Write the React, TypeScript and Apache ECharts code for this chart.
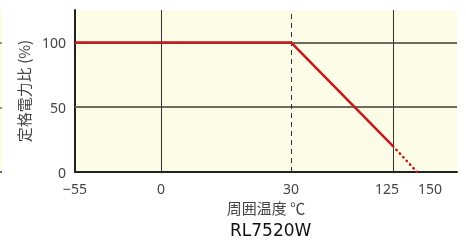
import React, { useEffect, useRef } from "react";
import * as echarts from "echarts";

// Temperature breakpoints of the (non-linear) x scale and their axis positions
const tempBreaks = [-55, 0, 30, 125, 150];
const axisBreaks = [0, 86, 216, 318, 342];
const axisMax = 382;

// Tick labels
const xTickLabels = ["−55", "0", "30", "125", "150"];
const yTicks = [0, 50, 100];

// Vertical grid lines (temperatures) and style
const vGridTemps = [0, 30, 125];
const vGridDashed = [false, true, false];
const hGridValues = [50, 100];

// Derating curve
const solidTemps = [-55, 30, 125];
const solidRatio = [100, 100, 20];
const dottedTemps = [125, 150];
const dottedRatio = [20, 0];

function toAxis(t: number): number {
  for (let i = 0; i < tempBreaks.length - 1; i++) {
    const a = tempBreaks[i], b = tempBreaks[i + 1];
    if (t >= a && t <= b) {
      return axisBreaks[i] + ((t - a) / (b - a)) * (axisBreaks[i + 1] - axisBreaks[i]);
    }
  }
  return t < tempBreaks[0] ? axisBreaks[0] : axisBreaks[axisBreaks.length - 1];
}

const FONT = "'Noto Sans', 'Noto Sans CJK JP', sans-serif";
const CJK = "'Noto Sans CJK JP', 'Noto Sans', sans-serif";
const RED = "#c8161d";
const BG = "#fdfce6";

export default function App() {
  const ref = useRef<HTMLDivElement>(null);
  useEffect(() => {
    if (!ref.current) return;
    const chart = echarts.init(ref.current, null, { renderer: "svg" });
    const tickPos = tempBreaks.map(toAxis);
    const labelFor = (v: number) => {
      let best = 0;
      for (let i = 1; i < tickPos.length; i++) {
        if (Math.abs(tickPos[i] - v) < Math.abs(tickPos[best] - v)) best = i;
      }
      return best;
    };
    const labelStyle = { fontSize: 14, lineHeight: 13, color: "#444", fontFamily: FONT };
    const baseX = {
      type: "value",
      min: 0,
      max: axisMax,
      position: "bottom",
      axisTick: { show: false },
      splitLine: { show: false },
    };
    chart.setOption({
      animation: false,
      title: {
        text: "RL7520W",
        left: 230,
        top: 221,
        padding: 0,
        textStyle: { fontSize: 17, fontWeight: "normal", color: "#111", fontFamily: "'DejaVu Sans', sans-serif" },
      },
      grid: {
        left: 75,
        top: 10,
        right: 9,
        bottom: 68,
        show: true,
        backgroundColor: BG,
        borderWidth: 0,
      },
      xAxis: [
        {
          ...baseX,
          name: "周囲温度 ℃",
          nameLocation: "middle",
          nameGap: 28,
          nameMoveOverlap: false,
          nameTextStyle: { fontSize: 15, lineHeight: 15, color: "#444", fontFamily: CJK },
          axisLine: { show: true, onZero: false, lineStyle: { color: "#222", width: 2 } },
          axisLabel: {
            ...labelStyle,
            customValues: tickPos.slice(0, 4),
            hideOverlap: false,
            margin: 10,
            formatter: (v: number) => {
              const i = labelFor(v);
              return i === 3 ? "{l|" + xTickLabels[i] + "}" : xTickLabels[i];
            },
            rich: { l: { ...labelStyle, padding: [0, 12, 0, 0] } },
          },
        },
        {
          ...baseX,
          axisLine: { show: false },
          axisLabel: {
            ...labelStyle,
            customValues: tickPos.slice(4),
            hideOverlap: false,
            margin: 10,
            formatter: (v: number) => "{r|" + xTickLabels[labelFor(v)] + "}",
            rich: { r: { ...labelStyle, padding: [0, 0, 0, 26] } },
          },
        },
      ],
      yAxis: {
        type: "value",
        min: 0,
        max: 125,
        name: "定格電力比 (%)",
        nameLocation: "middle",
        nameRotate: 90,
        nameGap: 44,
        nameMoveOverlap: false,
        nameTextStyle: { fontSize: 15, color: "#444", fontFamily: CJK },
        axisLine: { show: true, lineStyle: { color: "#222", width: 2 } },
        axisTick: { show: false },
        splitLine: { show: false },
        axisLabel: {
          ...labelStyle,
          lineHeight: 12,
          customValues: yTicks,
          margin: 9,
        },
      },
      graphic: [
        { type: "rect", shape: { x: 0, y: 10, width: 2.5, height: 162 }, style: { fill: BG } },
        { type: "line", shape: { x1: 0, y1: 43, x2: 2, y2: 43 }, style: { stroke: "#333", lineWidth: 1 } },
        { type: "line", shape: { x1: 0, y1: 108, x2: 2, y2: 108 }, style: { stroke: "#333", lineWidth: 1 } },
        { type: "line", shape: { x1: 0, y1: 172, x2: 2, y2: 172 }, style: { stroke: "#333", lineWidth: 1.5 } },
      ],
      series: [
        {
          type: "line",
          data: [],
          z: 1,
          silent: true,
          markLine: {
            silent: true,
            z: 1,
            symbol: ["none", "none"],
            label: { show: false },
            animation: false,
            data: [
              ...hGridValues.map((v) => ({ yAxis: v, lineStyle: { color: "#6e6c5f", width: 2, type: "solid" } })),
              ...vGridTemps.map((t, i) => ({
                xAxis: toAxis(t),
                lineStyle: vGridDashed[i]
                  ? { color: "#333", width: 1, type: [5, 4] }
                  : { color: "#333", width: 1, type: "solid" },
              })),
            ],
          },
        },
        {
          type: "line",
          z: 10,
          symbol: "none",
          lineStyle: { color: RED, width: 2.5 },
          data: solidTemps.map((t, i) => [toAxis(t), solidRatio[i]]),
        },
        {
          type: "line",
          z: 10,
          symbol: "none",
          lineStyle: { color: RED, width: 2.5, type: [0.5, 4.5], cap: "round" },
          data: dottedTemps.map((t, i) => [toAxis(t), dottedRatio[i]]),
        },
      ],
    });
    return () => chart.dispose();
  }, []);
  return (
    <div
      ref={ref}
      style={{ position: "fixed", left: 0, top: 0, width: 466, height: 240 }}
    />
  );
}
